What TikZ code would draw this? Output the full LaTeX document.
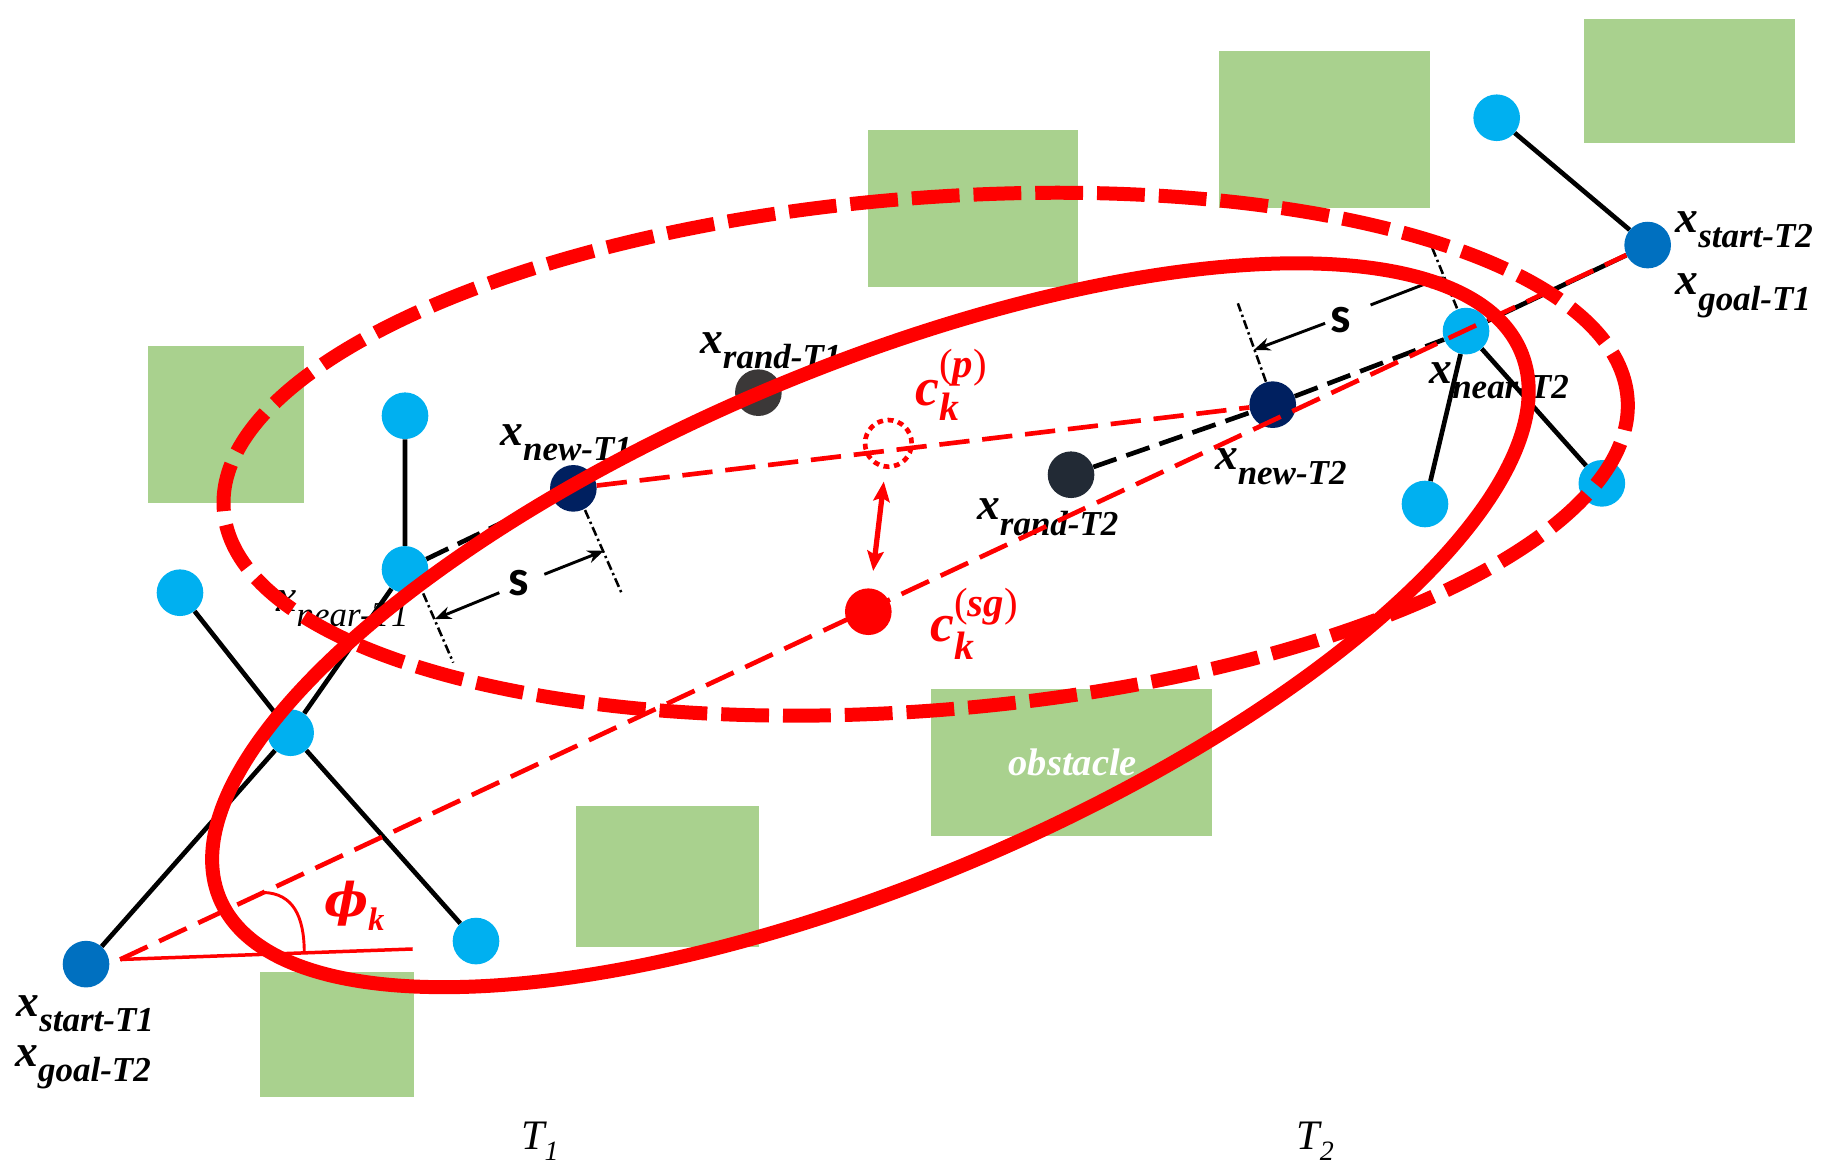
\documentclass[tikz,border=0pt]{standalone}
\usepackage{fontspec}
\setmainfont{Liberation Serif}
\newfontfamily\sfbold{Carlito}
\newfontfamily\phifont{DejaVu Serif}
\usetikzlibrary{arrows.meta}
\definecolor{obsgreen}{HTML}{A9D18E}
\definecolor{lblue}{HTML}{00B0F0}
\definecolor{sblue}{HTML}{0070C0}
\definecolor{navyb}{HTML}{002060}
\definecolor{randa}{HTML}{3B3838}
\definecolor{randb}{HTML}{222A35}
\definecolor{rred}{HTML}{FF0000}
\newcommand{\mylab}[1]{{\fontsize{39}{39}\selectfont\bfseries\itshape x}\raisebox{-13pt}{\fontsize{30}{30}\selectfont\bfseries\itshape #1}}
\newcommand{\mylabr}[1]{{\fontsize{39}{39}\selectfont\itshape x}\raisebox{-13pt}{\fontsize{30}{30}\selectfont\itshape #1}}
\pgfdeclarelayer{rects}
\pgfdeclarelayer{lines}
\pgfdeclarelayer{front}
\pgfsetlayers{rects,lines,main,front}
\begin{document}
\begin{tikzpicture}[x=1pt,y=-1pt,
  obs/.style={fill=obsgreen},
  tnode/.style={circle, inner sep=0pt, minimum size=40pt, fill=lblue},
  lbl/.style={anchor=base west, inner sep=0pt},
  tree/.style={line width=4pt},
  bdash/.style={line width=4pt, dash pattern=on 21pt off 9pt},
  rdash/.style={rred, line width=4pt, dash pattern=on 26pt off 11pt},
  ext/.style={line width=2.2pt, dash pattern=on 8pt off 3pt on 2pt off 3pt},
  dimarr/.style={line width=2.5pt, -{Stealth[length=14pt,width=11pt]}},
  bigsolid/.style={rred, line width=12pt},
  bigdash/.style={rred, line width=12pt, dash pattern=on 41pt off 12pt}]
\useasboundingbox (0,0) rectangle (1568,1002);

% obstacles
\begin{pgfonlayer}{rects}
\fill[obs] (127.1,296.8) rectangle (260.8,431.2);
\fill[obs] (744.5,111.5) rectangle (924.7,245.9);
\fill[obs] (1046,44) rectangle (1226.6,178);
\fill[obs] (1358.7,16.3) rectangle (1539.7,122.4);
\fill[obs] (798.6,591) rectangle (1039.4,716.8);
\fill[obs] (494,691.4) rectangle (651,812.6);
\fill[obs] (223,833.5) rectangle (355.1,940.7);
\end{pgfonlayer}

% tree nodes
\node[tnode] (a1) at (347.4,356.6) {};
\node[tnode] (near1) at (347.4,488.4) {};
\node[tnode] (a2) at (154.4,508.4) {};
\node[tnode] (a3) at (249.3,628.5) {};
\node[tnode] (a4) at (408.3,807.2) {};
\node[tnode,fill=sblue] (start1) at (73.8,827) {};
\node[tnode,fill=navyb] (new1) at (491.8,418.9) {};
\node[tnode,fill=randa] (rand1) at (650.5,336.8) {};
\node[tnode,fill=randb] (rand2) at (918.7,407.2) {};
\node[tnode,fill=navyb] (new2) at (1091.7,347.1) {};
\node[tnode] (near2) at (1257.5,284) {};
\node[tnode] (b1) at (1283.8,101) {};
\node[tnode] (b2) at (1222.3,432.3) {};
\node[tnode] (b3) at (1374,414.6) {};
\node[tnode,fill=sblue] (start2) at (1413.3,210.2) {};
\node[tnode,fill=rred] (csg) at (744.8,524.7) {};
\node[circle, inner sep=0pt, minimum size=40pt, draw=rred, line width=4pt, dash pattern=on 5pt off 4pt] (cp) at (762,380.3) {};

% tree edges and dimension lines
\begin{pgfonlayer}{lines}
\draw[tree] (start1) -- (a3) -- (near1) -- (a1);
\draw[tree] (a2) -- (a3) -- (a4);
\draw[tree] (b1) -- (start2) -- (near2) -- (b2);
\draw[tree] (near2) -- (b3);
\draw[bdash] (near1) -- (new1);
\draw[bdash] (rand2) -- (new2) -- (near2);
% dimension T1
\coordinate (e1a) at (363,509);   \coordinate (e1b) at (388.8,568.4);
\coordinate (e2a) at (501.8,437.5); \coordinate (e2b) at (533.3,509);
\draw[ext] (e1a) -- (e1b);
\draw[ext] (e2a) -- (e2b);
\coordinate (d1s) at (428.3,508.4); \coordinate (d1t) at (373,531);
\coordinate (d2s) at (466.9,492.6); \coordinate (d2t) at (518,472.4);
\draw[dimarr] (d1s) -- (d1t);
\draw[dimarr] (d2s) -- (d2t);
% dimension T2
\coordinate (e3a) at (1085.9,327.4); \coordinate (e3b) at (1061.8,260.2);
\coordinate (e4a) at (1249.8,264.5); \coordinate (e4b) at (1227.5,210.2);
\draw[ext] (e3a) -- (e3b);
\draw[ext] (e4a) -- (e4b);
\coordinate (d3s) at (1136.6,277.3); \coordinate (d3t) at (1075.5,300.2);
\coordinate (d4s) at (1175.6,261.6); \coordinate (d4t) at (1238.6,237.3);
\draw[dimarr] (d3s) -- (d3t);
\draw[dimarr] (d4s) -- (d4t);
\end{pgfonlayer}

\node[inner sep=0pt] (s1) at (444.6,500.4) {\fontsize{44}{44}\sfbold\bfseries s};
\node[inner sep=0pt] (s2) at (1149.6,274.5) {\fontsize{44}{44}\sfbold\bfseries s};

% labels
\node[lbl] (lst1) at (14,872) {\mylab{start-T1}};
\node[lbl] (lgo2) at (13,915) {\mylab{goal-T2}};
\node[lbl] (lnear1) at (237,524.7) {\mylabr{near-T1}};
\node[lbl] (lnew1) at (429,381.7) {\mylab{new-T1}};
\node[lbl] (lrand1) at (600.4,303) {\mylab{rand-T1}};
\node[lbl] (lrand2) at (838,446) {\mylab{rand-T2}};
\node[lbl] (lnew2) at (1042,403) {\mylab{new-T2}};
\node[lbl] (lnear2) at (1226,329) {\mylab{near-T2}};
\node[lbl] (lst2) at (1437,199) {\mylab{start-T2}};
\node[lbl] (lgo1) at (1437,253) {\mylab{goal-T1}};
\node[lbl,text=white] (lobs) at (865,665.6) {\fontsize{33}{33}\selectfont\bfseries\itshape obstacle};
\node[lbl] (lt1) at (447,986) {\fontsize{36}{36}\selectfont\itshape T\raisebox{-9pt}{\fontsize{24}{24}\selectfont 1}};
\node[lbl] (lt2) at (1112,986) {\fontsize{36}{36}\selectfont\itshape T\raisebox{-9pt}{\fontsize{24}{24}\selectfont 2}};
\node[lbl,text=rred] (lcp) at (785,347.4) {\fontsize{46}{46}\selectfont\bfseries\itshape c\rlap{\raisebox{-13pt}{\fontsize{34}{34}\selectfont k}}\raisebox{24pt}{\fontsize{35}{35}\selectfont\mdseries\upshape(\bfseries\itshape p\mdseries\upshape)}};
\node[lbl,text=rred] (lcsg) at (798,550.4) {\fontsize{46}{46}\selectfont\bfseries\itshape c\rlap{\raisebox{-15pt}{\fontsize{34}{34}\selectfont k}}\raisebox{22pt}{\fontsize{35}{35}\selectfont\mdseries\upshape(\bfseries\itshape sg\mdseries\upshape)}};
\node[lbl,text=rred] (lphi) at (278,786) {\fontsize{40}{40}\phifont\bfseries\itshape ϕ\raisebox{-12pt}{\fontsize{28}{28}\selectfont\rmfamily\bfseries\itshape k}};

% red construction and ellipses
\begin{pgfonlayer}{front}
\coordinate (vtx) at (103,823);
\coordinate (phiend) at (354,814);
\draw[rdash] (new1) -- (new2);
\draw[rdash] (vtx) -- (start2);
\draw[rred, line width=3pt] (vtx) -- (phiend);
\draw[rred, line width=2.5pt] (226,765.5) .. controls (251.6,766.3) and (260.8,786.3) .. (261,816.5);
\draw[rred, line width=4.5pt, {Stealth[length=17pt,width=14pt,inset=3pt]}-{Stealth[length=17pt,width=14pt,inset=3pt]}, shorten <=11pt, shorten >=15pt] (cp) -- (csg);
\draw[bigdash, shift={(794,389.6)}, rotate=4.58] (0,0) ellipse [x radius=604pt, y radius=219.7pt];
\draw[bigsolid, shift={(746.6,536.3)}, rotate=22.8] (0,0) ellipse [x radius=605.4pt, y radius=220.6pt];
\end{pgfonlayer}
\end{tikzpicture}
\end{document}
